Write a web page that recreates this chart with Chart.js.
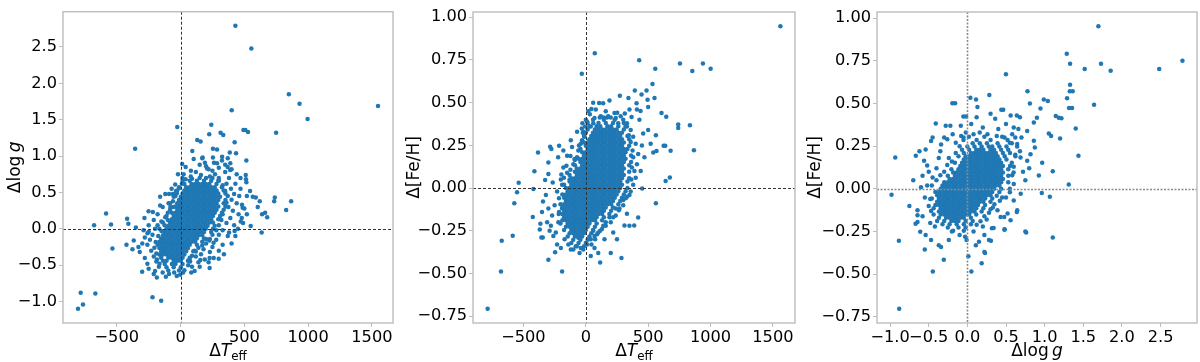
<!DOCTYPE html>
<html>
<head>
<meta charset="utf-8">
<script src="https://cdn.jsdelivr.net/npm/chart.js@4.4.1/dist/chart.umd.min.js"></script>
<style>
html,body{margin:0;padding:0;background:#ffffff;}
#wrap{position:relative;width:1200px;height:362px;overflow:hidden;background:#fff;}
#wrap canvas{position:absolute;top:0;}
</style>
</head>
<body>
<div id="wrap">
<canvas id="c1" width="400" height="362" style="left:0px"></canvas>
<canvas id="c2" width="400" height="362" style="left:400px"></canvas>
<canvas id="c3" width="400" height="362" style="left:800px"></canvas>
</div>
<script>
// ---------------- DATA ----------------
// Panel 1: ΔTeff (x) vs Δlog g (y) — scattered stars as [ΔTeff, Δlog g]
const teffLoggPairs = [
[430,2.79],[555,2.48],[849,1.85],[933,1.72],[996,1.51],[1548,1.69],[401,1.63],[749,1.32],[529,1.33],[508,1.36],[493,1.36],[241,1.43],[-26,1.40],[-356,1.10],[314,1.32],[335,1.29],[131,1.22],[157,1.20],[225,1.30],[424,1.19],[254,1.10],[286,1.09],[435,1.04],[92,1.07],[516,0.94],[13,0.89],[170,0.97],[191,0.91],[254,0.98],[262,0.91],[325,0.94],[369,0.85],[390,0.90],[511,0.74],[513,0.68],[516,0.64],[81,0.80],[220,0.82],
[-804,-1.10],[-783,-0.88],[-765,-1.04],[-668,-0.89],[-220,-0.94],[-152,-0.99],[-678,0.05],[-584,0.21],[-545,0.06],[-534,-0.27],[-419,0.14],[-409,0.07],[-424,-0.22],[-367,-0.16],[-377,-0.28],[-301,-0.59],[-283,0.15],[-259,-0.06],[-249,-0.04],[-251,0.24],[-217,0.23],[-160,0.44],[-60,0.48],[-29,0.49],[566,0.44],[590,0.43],[739,0.43],[734,0.38],[867,0.38],[828,0.26],[621,0.38],[605,0.30],[639,0.20],[663,0.22],[679,0.16],[550,0.04],[636,-0.05],[482,0.33],[487,0.29],[472,0.10],[424,-0.03],[225,-0.16],[259,-0.19],[299,-0.41],[228,-0.40],[155,-0.43],[228,-0.54],[84,-0.60],[-3,-0.63],[-115,-0.66],[-186,-0.67],
[360,0.62],[380,0.70],[350,0.78],[395,0.55],[420,0.48],[400,0.40],[375,0.30],[410,0.25],[440,0.35],[455,0.20],[390,0.15],[360,0.08],[420,0.05],[330,-0.02],[370,-0.10],[300,-0.08],[280,-0.15],[330,-0.22],[250,-0.25],[300,-0.30],[200,-0.20],[230,-0.32],[180,-0.28],[160,-0.35],[120,-0.38],[140,-0.46],[110,-0.30],[75,-0.45],[90,-0.52],[190,-0.42],[270,0.75],[300,0.70],[230,0.72],[160,0.74],[120,0.78],[80,0.72],[40,0.68],[10,0.62],[-10,0.56],[-40,0.45],[-60,0.38],[-80,0.30],[-100,0.22],[-120,0.16],[-150,0.10],[-180,0.05],[-200,0.00],[-220,-0.08],[-240,-0.15],[-260,-0.22],[-230,-0.30],[-210,-0.38],[-190,-0.45],[-170,-0.52],[-200,-0.58],[-140,-0.60],[-90,-0.62],[-50,-0.60],[-30,-0.65],[20,-0.60],[480,0.15],[500,0.28],[460,0.45],[430,0.62],[470,0.55],[520,0.45],[545,0.52],[440,0.75],[470,0.70],[400,0.82],[350,0.88],[300,0.84],[250,0.80],[200,0.86],[150,0.88],[103,0.96],[40,0.85],[-20,0.75],[-42,0.61],[-90,0.48],[-120,0.48],[-94,0.35],[-160,0.32],[-140,0.30],[-180,0.20],[-210,0.12],[-250,0.05],[-280,-0.12],[-300,-0.20],[-320,-0.32],[-280,-0.40],[-260,-0.48],[-250,-0.55],[-210,-0.62],[-330,-0.25],[-290,-0.02],[-350,0.02],[110,-0.58],[150,-0.52],[220,-0.46],[260,-0.40],[340,-0.35],[400,-0.20],[430,-0.10],[450,0.00],[380,-0.05],[490,0.08],[520,0.20],[386,1.05],[286,0.90],[208,0.83],[389,0.81],[326,0.99],[370,0.97],[173,0.98],[24,0.75],
[-70,0.55],[-35,0.52],[330,0.60],[300,0.66],[250,0.70],[200,0.70],[150,0.70],[90,0.69],[15,0.70],[-55,0.30],[-100,0.12],[-125,0.05],[-150,-0.03],[-175,-0.10],[-195,-0.18],[-205,-0.26],[-190,-0.34],[-185,-0.42],[-165,-0.48],[330,0.20],[320,0.12],[300,0.05],[280,-0.02],[250,-0.08],[230,-0.14],[200,-0.14],[170,-0.23],[140,-0.26],[120,-0.31],[90,-0.37],[70,-0.42],[60,-0.50],[30,-0.57],[360,0.36],[370,0.45],[350,0.52]
];
// Panel 1 dense core: [Δlog g, [ΔTeff values along that level]]
const teffLoggCoreRows = [
[0.660,[16,72,128,184,240,296]],
[0.616,[30,86,114,142,170,198,226,282]],
[0.572,[-12,44,72,100,128,156,184,212,240,268,324]],
[0.528,[-26,30,58,86,114,142,170,198,226,254,282,338]],
[0.484,[-40,16,44,72,100,128,156,184,212,240,268,296,352]],
[0.440,[-54,2,30,58,86,114,142,170,198,226,254,282,310]],
[0.396,[-12,16,44,72,100,128,156,184,212,240,268,296,352]],
[0.352,[-82,-26,2,30,58,86,114,142,170,198,226,254,282,338]],
[0.308,[-40,-12,16,44,72,100,128,156,184,212,240,268,296,352]],
[0.264,[-82,-26,2,30,58,86,114,142,170,198,226,254,282,338]],
[0.220,[-68,-40,-12,16,44,72,100,128,156,184,212,240,268,324]],
[0.176,[-110,-54,-26,2,30,58,86,114,142,170,198,226,254,310]],
[0.132,[-68,-40,-12,16,44,72,100,128,156,184,212,240,296]],
[0.088,[-138,-82,-54,-26,2,30,58,86,114,142,170,198,226,254]],
[0.044,[-96,-68,-40,-12,16,44,72,100,128,156,184,212,268]],
[0.000,[-166,-110,-82,-54,-26,2,30,58,86,114,142,170,198,254]],
[-0.044,[-124,-96,-68,-40,-12,16,44,72,100,128,156,184,240]],
[-0.088,[-138,-110,-82,-54,-26,2,30,58,86,114,142,170]],
[-0.132,[-152,-124,-96,-68,-40,-12,16,44,72,100,128,184]],
[-0.176,[-166,-138,-110,-82,-54,-26,2,30,58,86,114,170]],
[-0.220,[-180,-152,-124,-96,-68,-40,-12,16,44,72,128]],
[-0.264,[-166,-138,-110,-82,-54,-26,2,30,58]],
[-0.308,[-152,-124,-96,-68,-40,-12,16,44,100]],
[-0.352,[-166,-138,-110,-82,-54,-26,2,30]],
[-0.396,[-152,-96,-68,-40,-12,16,72]],
[-0.440,[-138,-110,-54,-26,2,58]],
[-0.484,[-124,-68,-40,16]],
[-0.528,[-110,-54,2]],
[-0.572,[-96,-12]]
];

// Panel 2: ΔTeff (x) vs Δ[Fe/H] (y) — scattered stars
const teffFehPairs = [
[1560,0.948],[72,0.789],[-32,0.669],[428,0.748],[557,0.698],[755,0.729],[854,0.686],[939,0.729],[1001,0.698],[535,0.609],[487,0.571],[393,0.571],[447,0.548],[551,0.527],[495,0.517],[607,0.440],[645,0.417],[741,0.372],[741,0.351],[835,0.368],[867,0.221],[624,0.248],[637,0.248],[680,0.219],[541,0.209],[567,0.217],[640,0.041],[674,0.062],[562,0.310],[562,-0.089],[452,-0.002],[388,-0.219],[310,-0.219],[420,-0.172],[286,-0.409],[115,-0.436],[40,-0.397],[-190,-0.488],[-300,-0.419],[-246,-0.376],[-680,-0.488],[-787,-0.707],[-674,-0.308],[-586,-0.279],[-573,-0.089],[-551,-0.025],[-538,0.031],[-420,-0.006],[-425,-0.169],[-412,0.099],[-383,0.209],[-286,0.242],[-276,0.229],[-214,0.248],[-222,0.180],[-343,-0.079],[-351,-0.140],[-364,-0.209],[-356,-0.289],[-345,-0.289],[-369,-0.242],[-326,0.048],[-300,0.083],[-265,0.033],
[45,0.463],[32,0.432],[107,0.498],[190,0.512],[112,0.413],[141,0.413],[170,0.413],[200,0.413],[273,0.541],[342,0.527],[-27,0.380],[-32,0.349],[-24,0.324],
[407,0.497],[59,0.50],[139,0.497],[252,0.441],[313,0.436],[367,0.416],[439,0.451],[500,0.474],[-123,0.188],[-88,0.164],[-155,0.131],[-123,0.107],[-196,0.08],
[-150,0.19],[-180,0.12],[-200,0.05],[-230,-0.02],[-250,-0.10],[-270,-0.16],[-280,-0.22],[-260,-0.28],[-230,-0.33],[-200,-0.35],[-170,-0.30],[-120,-0.36],[-80,-0.34],[-50,-0.38],[-20,-0.36],[10,-0.33],[40,-0.30],[70,-0.28],[100,-0.26],[130,-0.24],[160,-0.22],[200,-0.20],[240,-0.16],[270,-0.12],[300,-0.07],[330,-0.05],[360,-0.02],[380,0.02],[400,0.06],[390,0.10],[410,0.14],[380,0.18],[420,0.20],[400,0.26],[380,0.30],[360,0.34],[330,0.38],[300,0.40],[260,0.38],[230,0.44],[160,0.45],[80,0.46],[60,0.38],[40,0.36],[-10,0.30],[-40,0.26],[-60,0.22],[-90,0.17],[-110,0.24],[-130,0.05],[-160,-0.05],[-190,-0.12],[-220,-0.20],[-240,-0.26],[-100,-0.36],[-40,-0.35],[-140,-0.33],[-60,-0.29],[70,-0.35],[150,-0.30],[220,-0.26],[250,-0.30],[200,-0.38],[330,-0.15],[350,-0.22],[440,0.10],[450,0.25],[460,0.32],[430,0.40],[410,0.46],[350,0.46],[470,0.18],[520,0.26],[500,0.34],[-300,0.15],[-320,-0.04],[-300,-0.12],[-290,-0.25],[-310,-0.20],[-180,0.22],[-120,0.28],[-70,0.33],[0,0.40],[20,0.45],[100,-0.38],[60,-0.25],
[360,0.27],[375,0.22],[370,0.12],[365,0.05],[350,-0.04],[320,-0.06],[300,-0.10],[265,-0.13],[240,-0.12],[220,-0.17],[190,-0.17],[160,-0.20],[140,-0.22],[115,-0.25],[90,-0.27],[75,-0.30],[45,-0.33],[-215,-0.14],[-215,-0.06],[-190,0.02],[-175,0.06],[-150,0.09],[-100,0.14],[-70,0.18],[-55,0.25],[-30,0.28],[-20,0.33],[-5,0.36],[10,0.39],[70,0.41],[120,0.42],[180,0.42],[240,0.41],[280,0.42],[330,0.36],[345,0.31]
];
// Panel 2 dense core: [Δ[Fe/H], [ΔTeff values along that level]]
const teffFehCoreRows = [
[0.400,[58,145,232]],
[0.381,[15,102,160,218,305]],
[0.362,[29,87,116,174,203,261,319]],
[0.343,[15,73,102,131,160,189,218,247,305]],
[0.324,[0,58,87,116,145,174,203,232,261,290]],
[0.305,[-14,44,73,102,131,160,189,218,247,276,334]],
[0.286,[29,58,87,116,145,174,203,232,261,290,348]],
[0.267,[-14,15,44,73,102,131,160,189,218,247,276,305]],
[0.248,[0,29,58,87,116,145,174,203,232,261,290,348]],
[0.229,[-43,15,44,73,102,131,160,189,218,247,276,305,334]],
[0.210,[-29,0,29,58,87,116,145,174,203,232,261,290,319]],
[0.191,[-14,15,44,73,102,131,160,189,218,247,276,305,363]],
[0.172,[-58,-29,0,29,58,87,116,145,174,203,232,261,290,319]],
[0.153,[-43,-14,15,44,73,102,131,160,189,218,247,276,305,363]],
[0.134,[-87,-29,0,29,58,87,116,145,174,203,232,261,290,348]],
[0.115,[-72,-43,-14,15,44,73,102,131,160,189,218,247,276,305]],
[0.096,[-87,-58,-29,0,29,58,87,116,145,174,203,232,261,290,348]],
[0.077,[-130,-72,-43,-14,15,44,73,102,131,160,189,218,247,276,305]],
[0.058,[-116,-87,-58,-29,0,29,58,87,116,145,174,203,232,261,290,348]],
[0.039,[-130,-101,-72,-43,-14,15,44,73,102,131,160,189,218,247,276,334]],
[0.020,[-174,-116,-87,-58,-29,0,29,58,87,116,145,174,203,232,261,290]],
[0.001,[-159,-130,-101,-72,-43,-14,15,44,73,102,131,160,189,218,247,276,334]],
[-0.018,[-145,-116,-87,-58,-29,0,29,58,87,116,145,174,203,232,261,319]],
[-0.037,[-188,-159,-130,-101,-72,-43,-14,15,44,73,102,131,160,189,218,247,305]],
[-0.056,[-174,-145,-116,-87,-58,-29,0,29,58,87,116,145,174,203,232,290]],
[-0.075,[-159,-130,-101,-72,-43,-14,15,44,73,102,131,160,189,218,276]],
[-0.094,[-203,-174,-145,-116,-87,-58,-29,0,29,58,87,116,145,174,203,261]],
[-0.113,[-188,-159,-130,-101,-72,-43,-14,15,44,73,102,131,160,218]],
[-0.132,[-174,-145,-116,-87,-58,-29,0,29,58,87,116,145,203]],
[-0.151,[-217,-188,-159,-130,-101,-72,-43,-14,15,44,73,102,131,189]],
[-0.170,[-174,-145,-116,-87,-58,-29,0,29,58,87,145]],
[-0.189,[-188,-159,-130,-101,-72,-43,-14,15,44,73,131]],
[-0.208,[-203,-145,-116,-87,-58,-29,0,29,87]],
[-0.227,[-159,-130,-101,-72,-43,-14,15,73]],
[-0.246,[-174,-116,-87,-58,-29,0,58]],
[-0.265,[-130,-101,-72,-43,-14,44]],
[-0.284,[-145,-87,-58,-29,29]],
[-0.303,[-101,-43,15]],
[-0.322,[-116,-58,0]],
[-0.341,[-72,-14]]
];

// Panel 3: Δlog g (x) vs Δ[Fe/H] (y) — scattered stars
const loggFehPairs = [
[1.695,0.953],[2.783,0.75],[2.482,0.702],[1.518,0.702],[1.329,0.733],[1.729,0.733],[1.854,0.692],[1.639,0.492],[1.286,0.791],[0.499,0.671],[0.778,0.572],[0.809,0.5],[1.329,0.610],[1.325,0.572],[1.363,0.572],[1.29,0.531],[1.316,0.473],[1.355,0.473],[0.989,0.523],[1.041,0.514],[0.946,0.471],[1.402,0.353],[1.437,0.194],[1.312,0.025],[1.144,0.426],[1.183,0.417],[1.217,0.413],[1.2,0.295],[1.054,0.324],[1.084,0.31],[1.105,0.103],[1.067,-0.047],[0.963,-0.025],[1.105,-0.285],[0.761,-0.256],[0.482,-0.236],[0.318,-0.231],[0.305,-0.304],[0.185,-0.436],[0.228,-0.376],[0.052,-0.484],[0.013,-0.395],[-0.305,-0.415],[-0.447,-0.484],[-0.882,-0.703],[-0.886,-0.304],[-0.551,-0.355],[-0.981,-0.035],[-0.933,0.184],[-0.667,0.194],[-0.409,0.382],[-0.194,0.502],[-0.159,0.502],[0.039,0.533],[0.112,0.523],[0.284,0.55],[-0.052,0.424],[-0.017,0.424],[0.439,0.463],[0.464,0.463],
[-0.54,0.23],[-0.47,0.28],[-0.28,0.37],[-0.22,0.37],[-0.085,0.37],[0.13,0.48],[0.30,0.44],[0.36,0.41],[0.56,0.43],[0.64,0.43],[0.68,0.42],[-0.56,0.165],[-0.52,0.136],[-0.58,0.077],[-0.45,0.067],[-0.60,0.01],[-0.34,0.26],[-0.26,0.29],[-0.19,0.32],[-0.08,0.31],[-0.24,0.18],[-0.37,0.18],
[-0.67,-0.204],[-0.645,-0.194],[-0.645,-0.126],[-0.645,-0.155],[-0.61,-0.252],[-0.54,-0.27],[-0.37,-0.33],[-0.34,-0.34],[-0.47,-0.30],[-0.24,-0.30],[-0.03,-0.28],[-0.01,-0.30],[0.22,-0.37],[0.11,-0.33],[0.15,-0.31],[0.28,-0.30],[0.22,-0.27],[0.34,-0.23],[0.48,-0.24],[0.75,-0.25],[0.43,-0.165],[0.52,-0.145],[0.64,-0.135],[0.39,-0.126],[0.60,-0.068],[0.69,-0.029],[0.60,0.029],
[0.774,0.339],[0.86,0.388],[0.90,0.417],[0.873,0.242],[0.817,0.203],[0.774,0.165],[0.925,0.078],[0.968,0.153],[0.86,0.281],[0.645,0.262],[0.688,0.184],[0.645,-0.126],[0.559,-0.184],[0.477,-0.165],
[-0.50,0.10],[-0.55,-0.05],[-0.50,-0.10],[-0.58,-0.16],[-0.52,0.02],[-0.48,-0.20],[-0.35,0.22],[-0.30,0.30],[-0.15,0.27],[-0.40,0.12],[0.70,0.30],[0.72,0.10],[0.75,0.05],[0.80,0.12],[0.66,0.35],[0.60,0.36],[0.50,0.38],[0.40,0.35],[0.20,0.36],[0.05,0.38],[-0.02,0.33],[0.25,-0.18],[0.30,-0.12],[0.35,-0.09],[0.45,-0.05],[0.55,-0.02],[0.20,-0.22],[-0.20,-0.25],[-0.42,-0.22],[-0.10,-0.27],[0.08,-0.25],[0.68,0.22],[0.58,0.32],[0.12,0.42],[-0.45,0.30],[-0.62,0.22],[-0.70,0.05],[-0.75,-0.10],
[0.55,0.27],[0.62,0.20],[0.60,0.13],[0.58,0.08],[0.55,0.00],[0.50,-0.05],[0.42,-0.07],[0.38,-0.04],[0.33,-0.11],[0.28,-0.14],[0.22,-0.16],[0.17,-0.19],[0.12,-0.21],[-0.48,-0.06],[-0.47,-0.13],[-0.46,0.02],[-0.40,0.05],[-0.35,0.08],[-0.30,0.10],[-0.26,0.14],[-0.20,0.16],[-0.15,0.21],[-0.10,0.25],[-0.05,0.30],[0.08,0.32],[0.16,0.33],[0.26,0.32],[0.38,0.31],[0.48,0.30],[0.62,0.30]
];
// Panel 3 dense core: [Δ[Fe/H], [Δlog g values along that level]]
const loggFehCoreRows = [
[0.305,[0.02,0.22,0.45]],
[0.286,[-0.05,0.12,0.30,0.52]],
[0.267,[0.069,0.161,0.253,0.391,0.575]],
[0.248,[0.0,0.092,0.184,0.276,0.322,0.414,0.506,0.644]],
[0.229,[-0.069,0.023,0.115,0.161,0.207,0.299,0.345,0.437,0.529]],
[0.210,[-0.046,0.046,0.092,0.138,0.184,0.23,0.276,0.322,0.368,0.46,0.552]],
[0.191,[-0.115,-0.023,0.023,0.069,0.115,0.161,0.207,0.253,0.299,0.345,0.391,0.483,0.621]],
[0.172,[-0.046,0,0.046,0.092,0.138,0.184,0.23,0.276,0.322,0.368,0.414,0.506]],
[0.153,[-0.161,-0.069,-0.023,0.023,0.069,0.115,0.161,0.207,0.253,0.299,0.345,0.391,0.437,0.575]],
[0.134,[-0.092,-0.046,0,0.046,0.092,0.138,0.184,0.23,0.276,0.322,0.368,0.414,0.46,0.552]],
[0.115,[-0.207,-0.115,-0.069,-0.023,0.023,0.069,0.115,0.161,0.207,0.253,0.299,0.345,0.391,0.437,0.529]],
[0.096,[-0.184,-0.138,-0.092,-0.046,0,0.046,0.092,0.138,0.184,0.23,0.276,0.322,0.368,0.414,0.46,0.598]],
[0.077,[-0.253,-0.161,-0.115,-0.069,-0.023,0.023,0.069,0.115,0.161,0.207,0.253,0.299,0.345,0.391,0.437,0.529]],
[0.058,[-0.23,-0.184,-0.138,-0.092,-0.046,0,0.046,0.092,0.138,0.184,0.23,0.276,0.322,0.368,0.414,0.46]],
[0.039,[-0.299,-0.253,-0.207,-0.161,-0.115,-0.069,-0.023,0.023,0.069,0.115,0.161,0.207,0.253,0.299,0.345,0.391,0.437,0.529]],
[0.020,[-0.322,-0.276,-0.23,-0.184,-0.138,-0.092,-0.046,0,0.046,0.092,0.138,0.184,0.23,0.276,0.322,0.368,0.414]],
[0.001,[-0.345,-0.299,-0.253,-0.207,-0.161,-0.115,-0.069,-0.023,0.023,0.069,0.115,0.161,0.207,0.253,0.299,0.345,0.437]],
[-0.018,[-0.414,-0.368,-0.322,-0.276,-0.23,-0.184,-0.138,-0.092,-0.046,0,0.046,0.092,0.138,0.184,0.23,0.276,0.322,0.414]],
[-0.037,[-0.391,-0.345,-0.299,-0.253,-0.207,-0.161,-0.115,-0.069,-0.023,0.023,0.069,0.115,0.161,0.207,0.253,0.299]],
[-0.056,[-0.46,-0.368,-0.322,-0.276,-0.23,-0.184,-0.138,-0.092,-0.046,0,0.046,0.092,0.138,0.184,0.23,0.322]],
[-0.075,[-0.391,-0.345,-0.299,-0.253,-0.207,-0.161,-0.115,-0.069,-0.023,0.023,0.069,0.115,0.161,0.207,0.299]],
[-0.094,[-0.414,-0.368,-0.322,-0.276,-0.23,-0.184,-0.138,-0.092,-0.046,0,0.046,0.092,0.138,0.23]],
[-0.113,[-0.437,-0.345,-0.299,-0.253,-0.207,-0.161,-0.115,-0.069,-0.023,0.023,0.069,0.115,0.207]],
[-0.132,[-0.368,-0.322,-0.276,-0.23,-0.184,-0.138,-0.092,-0.046,0,0.046,0.092,0.184]],
[-0.151,[-0.437,-0.345,-0.299,-0.253,-0.207,-0.161,-0.115,-0.069,-0.023,0.023,0.115]],
[-0.170,[-0.368,-0.276,-0.23,-0.184,-0.138,-0.092,-0.046,0.046]],
[-0.189,[-0.391,-0.299,-0.207,-0.161,-0.115,-0.023,0.069]],
[-0.208,[-0.322,-0.23,-0.138,-0.046,0.046]],
[-0.227,[-0.253,-0.115,-0.023]],
[-0.246,[-0.184,-0.046]]
];

// Tick values and labels
const teffTickValues = [-500, 0, 500, 1000, 1500];
const teffTickLabels = ['\u2212500', '0', '500', '1000', '1500'];
const loggTickValues = [-1.0, -0.5, 0.0, 0.5, 1.0, 1.5, 2.0, 2.5];
const loggTickLabels = ['\u22121.0', '\u22120.5', '0.0', '0.5', '1.0', '1.5', '2.0', '2.5'];
const fehTickValues = [-0.75, -0.5, -0.25, 0.0, 0.25, 0.5, 0.75, 1.0];
const fehTickLabels = ['\u22120.75', '\u22120.50', '\u22120.25', '0.00', '0.25', '0.50', '0.75', '1.00'];

// Axis titles (rich text parts)
const titleTeff = [{t:'\u0394'}, {t:'T', it:true}, {t:'eff', sc:0.7, dy:3.5}];
const titleLogg = [{t:'\u0394'}, {t:'log'}, {t:'\u2009'}, {t:'g', it:true}];
const titleFeh  = [{t:'\u0394[Fe/H]'}];

// ---------------- RENDERING ----------------
const FAMILY = "'DejaVu Sans', 'Liberation Sans', sans-serif";
const TICK_SIZE = 16.2;
const TITLE_SIZE = 17;

function expandRows(rows) {
  const out = [];
  rows.forEach(([y, xs]) => xs.forEach(x => out.push([x, y])));
  return out;
}

function paddedRange(vals) {
  const mn = Math.min(...vals), mx = Math.max(...vals), pad = (mx - mn) * 0.05;
  return [mn - pad, mx + pad];
}

function fontFor(part) {
  const size = TITLE_SIZE * (part.sc || 1);
  return (part.it ? 'italic ' : '') + size + 'px ' + FAMILY;
}

function drawRich(ctx, parts, cx, baseY) {
  let total = 0;
  const widths = parts.map(p => { ctx.font = fontFor(p); const w = ctx.measureText(p.t).width; total += w; return w; });
  let x = cx - total / 2;
  ctx.textAlign = 'left';
  ctx.textBaseline = 'alphabetic';
  parts.forEach((p, i) => {
    ctx.font = fontFor(p);
    ctx.fillText(p.t, x, baseY + (p.dy || 0));
    x += widths[i];
  });
}

const decorPlugin = {
  id: 'decor',
  afterDatasetsDraw(chart, args, o) {
    const ctx = chart.ctx, a = chart.chartArea;
    const xs = chart.scales.x, ys = chart.scales.y;
    ctx.save();
    ctx.beginPath();
    ctx.rect(a.left, a.top, a.right - a.left, a.bottom - a.top);
    ctx.clip();
    ctx.strokeStyle = o.zeroColor;
    ctx.lineWidth = o.zeroWidth;
    ctx.setLineDash(o.zeroDash);
    const x0 = Math.round(xs.getPixelForValue(0)) + 0.5;
    const y0 = Math.round(ys.getPixelForValue(0)) + 0.5;
    ctx.beginPath(); ctx.moveTo(x0, a.top); ctx.lineTo(x0, a.bottom); ctx.stroke();
    ctx.beginPath(); ctx.moveTo(a.left, y0); ctx.lineTo(a.right, y0); ctx.stroke();
    ctx.restore();
    ctx.save();
    ctx.strokeStyle = '#bdbdbd';
    ctx.lineWidth = 1.4;
    ctx.strokeRect(a.left, a.top, a.right - a.left, a.bottom - a.top);
    ctx.restore();
  },
  afterDraw(chart, args, o) {
    const ctx = chart.ctx, a = chart.chartArea;
    ctx.save();
    ctx.fillStyle = '#000';
    drawRich(ctx, o.xTitle, (a.left + a.right) / 2, o.xTitleBase);
    ctx.translate(o.yTitleBase, (a.top + a.bottom) / 2);
    ctx.rotate(-Math.PI / 2);
    drawRich(ctx, o.yTitle, 0, 0);
    ctx.restore();
  }
};

function buildPanel(id, pairs, cfg) {
  const [xmin, xmax] = paddedRange(pairs.map(p => p[0]));
  const [ymin, ymax] = paddedRange(pairs.map(p => p[1]));
  const tickFont = { family: FAMILY, size: TICK_SIZE };
  const gridCfg = { display: true, drawOnChartArea: false, drawTicks: true, tickLength: 4, color: '#bdbdbd', lineWidth: 1 };
  return new Chart(document.getElementById(id), {
    type: 'scatter',
    data: { datasets: [{
      data: pairs.map(p => ({ x: p[0], y: p[1] })),
      pointBackgroundColor: '#1f77b4',
      backgroundColor: '#1f77b4',
      pointBorderWidth: 0,
      borderWidth: 0,
      pointRadius: 2.25,
      pointHoverRadius: 2.25
    }]},
    options: {
      responsive: false,
      animation: false,
      events: [],
      layout: { padding: { left: 0, right: cfg.padRight, top: cfg.padTop, bottom: 0 } },
      plugins: {
        legend: { display: false },
        tooltip: { enabled: false },
        decor: {
          zeroColor: cfg.zeroColor, zeroWidth: cfg.zeroWidth, zeroDash: cfg.zeroDash,
          xTitle: cfg.xTitle, yTitle: cfg.yTitle, xTitleBase: cfg.xTitleBase, yTitleBase: cfg.yTitleBase
        }
      },
      scales: {
        x: {
          type: 'linear', min: xmin, max: xmax,
          afterBuildTicks: s => { s.ticks = cfg.xTickValues.map(v => ({ value: v })); },
          afterFit: s => { s.height = cfg.xAxisHeight; },
          grid: gridCfg,
          border: { display: false },
          ticks: { autoSkip: false, maxRotation: 0, minRotation: 0, padding: cfg.xTickPad, color: '#000', font: tickFont,
                   callback: (v, i) => cfg.xTickLabels[i] }
        },
        y: {
          type: 'linear', min: ymin, max: ymax,
          afterBuildTicks: s => { s.ticks = cfg.yTickValues.map(v => ({ value: v })); },
          afterFit: s => { s.width = cfg.yAxisWidth; },
          grid: gridCfg,
          border: { display: false },
          ticks: { autoSkip: false, padding: 2, color: '#000', font: tickFont,
                   callback: (v, i) => cfg.yTickLabels[i] }
        }
      }
    },
    plugins: [decorPlugin]
  });
}

buildPanel('c1', teffLoggPairs.concat(expandRows(teffLoggCoreRows)), {
  padRight: 7, padTop: 3, yAxisWidth: 63, xAxisHeight: 39, xTickPad: 1,
  xTickValues: teffTickValues, xTickLabels: teffTickLabels,
  yTickValues: loggTickValues, yTickLabels: loggTickLabels,
  zeroColor: '#333333', zeroWidth: 1, zeroDash: [3, 2],
  xTitle: titleTeff, yTitle: titleLogg, xTitleBase: 356, yTitleBase: 20
});
buildPanel('c2', teffFehPairs.concat(expandRows(teffFehCoreRows)), {
  padRight: 5, padTop: 12, yAxisWidth: 73, xAxisHeight: 39, xTickPad: 1,
  xTickValues: teffTickValues, xTickLabels: teffTickLabels,
  yTickValues: fehTickValues, yTickLabels: fehTickLabels,
  zeroColor: '#333333', zeroWidth: 1, zeroDash: [3, 2],
  xTitle: titleTeff, yTitle: titleFeh, xTitleBase: 356, yTitleBase: 19
});
buildPanel('c3', loggFehPairs.concat(expandRows(loggFehCoreRows)), {
  padRight: 3, padTop: 12, yAxisWidth: 77, xAxisHeight: 39, xTickPad: 1,
  xTickValues: loggTickValues, xTickLabels: loggTickLabels,
  yTickValues: fehTickValues, yTickLabels: fehTickLabels,
  zeroColor: '#8a8a8a', zeroWidth: 1.6, zeroDash: [2, 1.5],
  xTitle: titleLogg, yTitle: titleFeh, xTitleBase: 356, yTitleBase: 20
});
</script>
</body>
</html>
